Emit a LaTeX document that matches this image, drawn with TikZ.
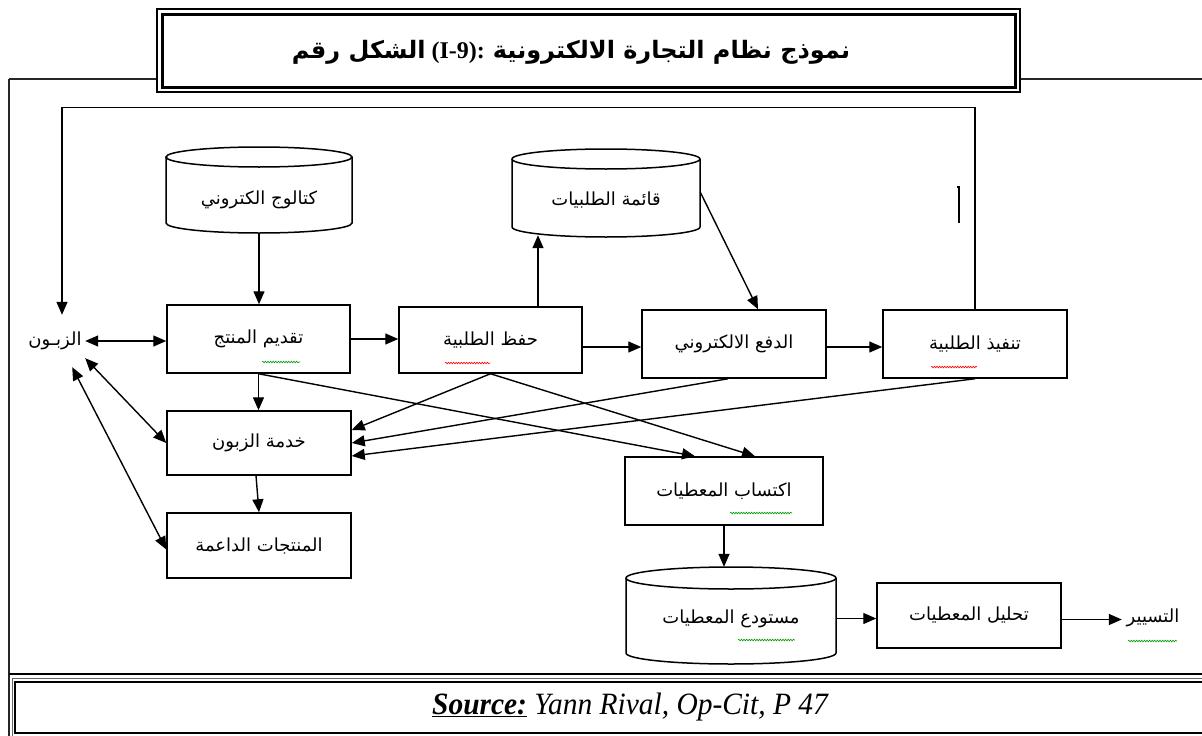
\documentclass[tikz,border=0pt]{standalone}
\usepackage{fontspec}
\setmainfont{Liberation Serif}
\newfontfamily\arabicfont[Script=Arabic]{DejaVu Sans}
\TeXXeTstate=1
\usetikzlibrary{arrows.meta,decorations.pathmorphing}

\newcommand{\artxt}[1]{{\arabicfont\beginR #1\endR}}

\begin{document}
\begin{tikzpicture}[x=1pt,y=-1pt,
  frame/.style={line width=1.2pt,draw=black!85},
  box/.style={draw,line width=1.5pt,rectangle,inner sep=0pt,
    font=\arabicfont\fontsize{18}{20}\selectfont},
  dbnode/.style={rectangle,inner sep=0pt,
    font=\arabicfont\fontsize{18}{20}\selectfont},
  dbline/.style={line width=1.5pt},
  plain/.style={inner sep=0pt,font=\arabicfont\fontsize{18}{20}\selectfont},
  arr/.style={line width=1.4pt,-{Triangle[length=13pt,width=11pt]}},
  dbl/.style={line width=1.4pt,{Triangle[length=13pt,width=11pt]}-{Triangle[length=13pt,width=11pt]}},
  squig/.style={line width=0.6pt,decorate,
    decoration={snake,amplitude=0.8pt,segment length=2.6pt}}
]
\useasboundingbox (0,0) rectangle (1202,736);

% ---- outer frame of the figure ----
\draw[frame] (9,79) -- (157,79);
\draw[frame] (1020,79) -- (1203,79);
\draw[frame] (9,79) -- (9,737);
\draw[line width=2.2pt] (9,674) -- (1203,674);

% ---- title box ----
\draw[line width=1.2pt] (157,9) rectangle (1020,92);
\draw[line width=3pt] (162,14) rectangle (1015,87);
\node[inner sep=0pt] (title) at (571,52)
  {\fontsize{24}{28}\selectfont\bfseries
   {\arabicfont\beginR الشكل رقم\endR} (I-9): {\arabicfont\beginR نموذج نظام التجارة الالكترونية\endR}};

% ---- source box ----
\draw[line width=1pt,draw=black!60] (12,678) rectangle (1210,742);
\draw[line width=2.5pt] (15,682) rectangle (1210,733);
\node[inner sep=0pt] (source) at (630,707)
  {\scalebox{0.95}[1]{\fontsize{31}{33}\selectfont\itshape \underline{\textbf{Source:}} Yann Rival, Op-Cit, P 47}};

% ---- databases ----
\draw[dbline] (259,157) ellipse [x radius=93pt,y radius=10pt];
\draw[dbline] (166,157) -- (166,223) arc[start angle=180,end angle=360,x radius=93pt,y radius=10pt] -- (352,157);
\node[dbnode,minimum width=186pt,minimum height=86pt] (cat) at (259,190)
  {\raisebox{-10pt}[\height][\depth]{\artxt{كتالوج الكتروني}}};

\draw[dbline] (606,159) ellipse [x radius=94pt,y radius=10pt];
\draw[dbline] (512,159) -- (512,227) arc[start angle=180,end angle=360,x radius=94pt,y radius=10pt] -- (700,159);
\node[dbnode,minimum width=188pt,minimum height=86pt] (qaima) at (606,192)
  {\raisebox{-8pt}[\height][\depth]{\artxt{قائمة الطلبيات}}};

\draw[dbline] (731,578) ellipse [x radius=105pt,y radius=11pt];
\draw[dbline] (626,578) -- (626,653) arc[start angle=180,end angle=360,x radius=105pt,y radius=11pt] -- (836,578);
\node[dbnode,minimum width=210pt,minimum height=97pt] (mustawda) at (731,615.5)
  {\raisebox{-3pt}[\height][\depth]{\artxt{مستودع المعطيات}}};

% ---- process boxes ----
\node[plain,minimum width=60pt,minimum height=34pt] (zab) at (55,341) {\artxt{الزبـون}};
\node[box,minimum width=183pt,minimum height=68pt] (taqdim) at (258.5,339) {\artxt{تقديم المنتج}};
\node[box,minimum width=183pt,minimum height=66pt] (hafz) at (490.5,340) {\artxt{حفظ الطلبية}};
\node[box,minimum width=184pt,minimum height=68pt] (dafa) at (734,344) {\artxt{الدفع الالكتروني}};
\node[box,minimum width=184pt,minimum height=68pt] (tanfidh) at (975,344) {\artxt{تنفيذ الطلبية}};
\node[box,minimum width=184pt,minimum height=64pt] (khidma) at (259,443) {\artxt{خدمة الزبون}};
\node[box,minimum width=184pt,minimum height=65pt] (munt) at (259,545.5) {\artxt{المنتجات الداعمة}};
\node[box,minimum width=198pt,minimum height=68pt] (iktisab) at (724,491) {\artxt{اكتساب المعطيات}};
\node[box,minimum width=184pt,minimum height=65pt] (tahlil) at (969,615.5) {\artxt{تحليل المعطيات}};
\node[plain,minimum width=62pt,minimum height=30pt] (tasyir) at (1153,618) {\artxt{التسيير}};

% ---- connectors ----
\draw[arr] (cat.south) -- (cat.south |- taqdim.north);
\draw[dbl] (zab.east) -- (taqdim.west |- zab.east);
\draw[dbl] (zab.south east) -- (khidma.west);
\draw[dbl] ([xshift=-13pt,yshift=-9pt]zab.south east) -- ([yshift=-4pt]munt.west);
\draw[arr] (taqdim.east) -- (taqdim.east -| hafz.west);
\draw[arr] ([xshift=47.5pt]hafz.north) -- ([xshift=47.5pt]hafz.north |- qaima.south);
\draw[arr] (qaima.east) -- ([xshift=24pt]dafa.north);
\draw[arr] ([yshift=-7pt]hafz.east) -- ([yshift=-7pt]hafz.east -| dafa.west);
\draw[arr] ([yshift=-3pt]dafa.east) -- ([yshift=-3pt]dafa.east -| tanfidh.west);
\draw[arr] (tanfidh.north) -- ++(0,-202) -| ([xshift=7pt,yshift=9pt]zab.north);
\draw[arr] (taqdim.south) -- (taqdim.south |- khidma.north);
\draw[arr] ([xshift=-3pt]khidma.south) -- (munt.north);
\draw[arr] (hafz.south) -- ([yshift=13pt]khidma.east);
\draw[arr] ([xshift=-6pt]dafa.south) -- (khidma.east);
\draw[arr] (tanfidh.south) -- ([yshift=-13pt]khidma.east);
\draw[arr] (taqdim.south) -- ([xshift=-29pt]iktisab.north);
\draw[arr] (hafz.south) -- ([xshift=31pt]iktisab.north);
\draw[arr] (iktisab.south) -- (iktisab.south |- mustawda.north);
\draw[arr] ([yshift=-3pt]mustawda.east) -- ([yshift=-3pt]mustawda.east -| tahlil.west);
\draw[arr] ([yshift=-4pt]tahlil.east) -- ([yshift=-4pt]tahlil.east -| tasyir.west);

% ---- stray bar ----
\draw[line width=1.6pt] (956.5,187) -- (959,187) -- (959,223);

% ---- proofing underlines ----
\draw[squig,green!60!black] (262,362) -- (300,362);
\draw[squig,red] (445,363) -- (490,363);
\draw[squig,red] (931,367) -- (977,367);
\draw[squig,green!60!black] (730,513) -- (792,513);
\draw[squig,green!60!black] (738,640) -- (795,640);
\draw[squig,green!60!black] (1128,641) -- (1177,641);
\end{tikzpicture}
\end{document}
